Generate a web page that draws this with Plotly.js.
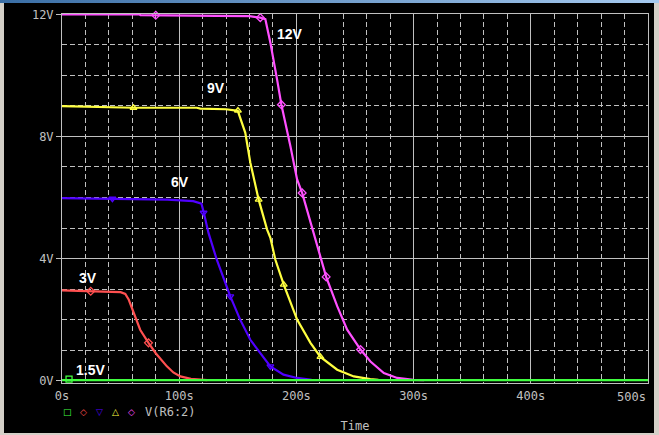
<!DOCTYPE html>
<html>
<head>
<meta charset="utf-8">
<script src="https://cdn.plot.ly/plotly-3.0.1.min.js"></script>
<style>
  html, body { margin:0; padding:0; width:659px; height:435px; overflow:hidden; background:#d4d0c8; }
  #bar { position:absolute; left:0; top:0; width:659px; height:3px; background:linear-gradient(90deg,#3a6ea5,#a6caf0); }
  #chart { position:absolute; left:4px; top:3px; width:650px; height:430px; background:#000; }
</style>
</head>
<body>
<div id="bar"></div>
<div id="chart"></div>
<script>
// ---- data ----
const t15 = [0, 500];
const v15 = [0.02, 0.02];
const m15t = [6];
const m15v = [0.05];

const t3 = [0, 20, 35, 50, 54, 57, 61, 66.7, 73.8, 80, 89.5, 95, 101, 110, 124];
const v3 = [2.96, 2.95, 2.92, 2.90, 2.84, 2.65, 2.22, 1.67, 1.24, 0.90, 0.47, 0.27, 0.14, 0.06, 0.02];
const m3t = [24.5, 73.8];
const m3v = [2.93, 1.24];

const t6 = [0, 40, 90, 112, 119, 121, 125, 132, 143.6, 152, 160.7, 169, 177.8, 189, 200.6, 213];
const v6 = [5.98, 5.96, 5.93, 5.88, 5.80, 5.5, 4.84, 3.97, 2.76, 2.0, 1.34, 0.91, 0.47, 0.2, 0.09, 0.03];
const m6t = [43, 120.8, 143.6, 177.8];
const m6v = [5.96, 5.5, 2.76, 0.47];

const t9 = [0, 61, 115, 118, 140, 150, 156.4, 160.7, 167.8, 175, 177.8, 182, 189.2, 200.6, 212, 220.5, 234.8, 249, 263, 270];
const v9 = [8.99, 8.94, 8.94, 8.91, 8.89, 8.84, 8.12, 7.14, 5.93, 4.95, 4.68, 3.97, 3.15, 2.0, 1.24, 0.78, 0.36, 0.14, 0.05, 0.03];
const m9t = [61, 150.1, 167.8, 189.2, 220.5];
const m9v = [8.94, 8.85, 5.93, 3.15, 0.78];

const t12 = [0, 66, 67, 131, 132, 160, 169.2, 173.5, 177.8, 183.5, 187.2, 194.9, 200.6, 204.9, 212, 220.5, 225.4, 234.8, 243.3, 254.7, 263.2, 274.6, 286, 300, 309];
const v12 = [12.0, 12.0, 11.97, 11.97, 11.95, 11.94, 11.89, 11.84, 11.07, 9.87, 9.04, 7.68, 6.59, 6.15, 5.17, 4.02, 3.4, 2.44, 1.67, 1.02, 0.63, 0.25, 0.09, 0.03, 0.02];
const m12t = [80, 169.2, 187.2, 204.9, 225.4, 254.7];
const m12v = [11.97, 11.89, 9.04, 6.15, 3.4, 1.02];

const xTickVals = [0, 100, 200, 300, 400, 500];
const xTickText = ['0s', '100s', '200s', '300s', '400s', '500s'];
const yTickVals = [0, 4, 8, 12];
const yTickText = ['0V', '4V', '8V', '12V'];

const seriesLabels = ['1.5V', '3V', '6V', '9V', '12V'];
const legendText = 'V(R6:2)';

// ---- styles ----
const C = { g:'#40ff40', r:'#ff5050', b:'#5000ff', y:'#ffff40', m:'#ff50ff' };
const GRID = '#c0c0c0';
const MONO = 'DejaVu Sans Mono, monospace';

function line(x, y, c) {
  return { x, y, type:'scatter', mode:'lines', line:{ color:c, width:2.2 }, hoverinfo:'skip' };
}
function marks(x, y, c, sym) {
  return { x, y, type:'scatter', mode:'markers', cliponaxis:false,
    marker:{ symbol:sym, size:6, color:c, line:{ color:c, width:1.3 } }, hoverinfo:'skip' };
}

const data = [
  line(t3, v3, C.r), marks(m3t, m3v, C.r, 'diamond-open'),
  line(t6, v6, C.b), marks(m6t, m6v, C.b, 'triangle-down-open'),
  line(t9, v9, C.y), marks(m9t, m9v, C.y, 'triangle-up-open'),
  line(t12, v12, C.m), marks(m12t, m12v, C.m, 'diamond-open'),
  line(t15, v15, C.g), marks(m15t, m15v, C.g, 'square-open')
];

// pixel (page) -> paper helpers for labels
const PL = 62, PW = 586, PB = 383, PH = 369;
const px = x => (x - PL) / PW;
const py = y => (PB - y) / PH;

const labelPos = [[90.7, 370], [88.3, 278.3], [180, 181.7], [216, 88.3], [290, 34.3]];
const annotations = seriesLabels.map((s, i) => ({
  text: s, xref:'paper', yref:'paper', x: px(labelPos[i][0]), y: py(labelPos[i][1]),
  xanchor:'center', yanchor:'middle', showarrow:false,
  font:{ family:'Liberation Sans, Arial, sans-serif', size:14, color:'#ffffff', weight:'bold' }
}));

const legSyms = [['□', C.g, 67.7], ['◇', C.r, 83.3], ['▽', C.b, 99], ['△', C.y, 115.7], ['◇', C.m, 131.7]];
legSyms.forEach(s => annotations.push({
  text: s[0], xref:'paper', yref:'paper', x: px(s[2]), y: py(411.7),
  xanchor:'center', yanchor:'middle', showarrow:false,
  font:{ family:'DejaVu Sans, sans-serif', size:9, color:s[1] }
}));
annotations.push({
  text: legendText, xref:'paper', yref:'paper', x: px(142.5), y: py(411.7),
  xanchor:'left', yanchor:'middle', showarrow:false,
  font:{ family:MONO, size:12, color:GRID }
});
// last x tick label is pushed inside the window in the reference
annotations.push({
  text: xTickText[5], xref:'paper', yref:'paper', x: px(648), y: py(397),
  xanchor:'right', yanchor:'middle', showarrow:false,
  font:{ family:MONO, size:12, color:GRID }
});

const layout = {
  width:650, height:430, autosize:false,
  paper_bgcolor:'#000000', plot_bgcolor:'#000000',
  margin:{ l:58, r:6, t:11, b:50, pad:0 },
  showlegend:false,
  font:{ family:MONO, size:12, color:GRID },
  xaxis:{
    range:[0, 500], tickvals:xTickVals, ticktext:xTickText.map((s, i) => i === 5 ? ' ' : s),
    showgrid:true, gridcolor:GRID, gridwidth:1,
    minor:{ dtick:20, showgrid:true, gridcolor:GRID, griddash:'5px,3px', gridwidth:1 },
    showline:true, linecolor:GRID, linewidth:1, mirror:true,
    ticks:'', zeroline:false, ticklabelstandoff:2,
    tickfont:{ family:MONO, size:12, color:GRID },
    title:{ text:'Time', font:{ family:MONO, size:12, color:GRID }, standoff:22 }
  },
  yaxis:{
    range:[-0.075, 12.01], tickvals:yTickVals, ticktext:yTickText,
    showgrid:true, gridcolor:GRID, gridwidth:1,
    minor:{ dtick:1, showgrid:true, gridcolor:GRID, griddash:'5px,3px', gridwidth:1 },
    showline:true, linecolor:GRID, linewidth:1, mirror:true,
    ticks:'outside', ticklen:5, tickcolor:GRID, zeroline:false,
    tickfont:{ family:MONO, size:12, color:GRID }
  },
  annotations
};

Plotly.newPlot('chart', data, layout, { staticPlot:true, displayModeBar:false });
</script>
</body>
</html>
